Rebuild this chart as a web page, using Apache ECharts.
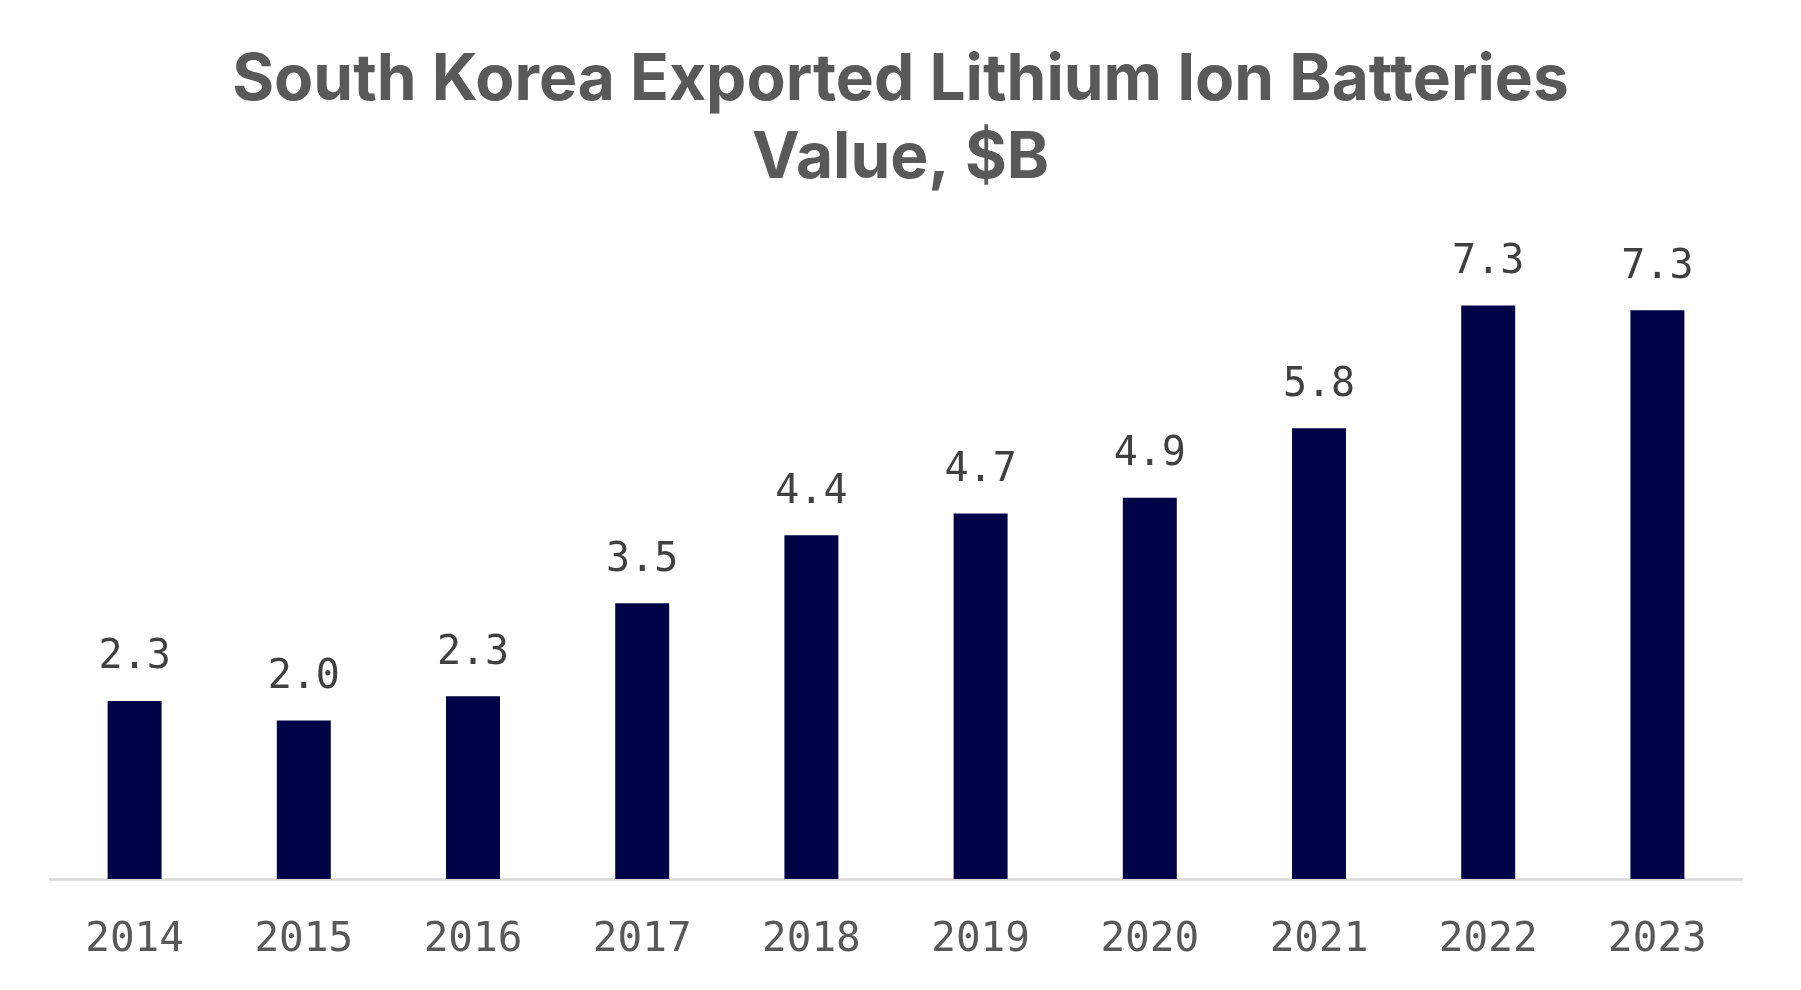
<!DOCTYPE html>
<html>
<head>
<meta charset="utf-8">
<script src="https://cdn.jsdelivr.net/npm/echarts@6/dist/echarts.min.js"></script>
<style>html,body{margin:0;padding:0;background:#fff;}#chart{width:1801px;height:990px;}</style>
</head>
<body>
<div id="chart"></div>
<script>
const years = ['2014','2015','2016','2017','2018','2019','2020','2021','2022','2023'];
const values = [2.28, 2.03, 2.34, 3.53, 4.40, 4.68, 4.88, 5.77, 7.34, 7.28];
const titleText = 'South Korea Exported Lithium Ion Batteries\nValue, $B';

const chart = echarts.init(document.getElementById('chart'));
chart.setOption({
  backgroundColor: '#ffffff',
  animation: false,
  title: {
    text: titleText,
    left: 'center',
    top: 37,
    textStyle: {
      fontFamily: 'Inter',
      fontWeight: 700,
      fontSize: 64,
      lineHeight: 78,
      color: '#595959'
    }
  },
  grid: { left: 50, right: 59, top: 254, bottom: 111 },
  xAxis: {
    type: 'category',
    data: years,
    axisLine: { lineStyle: { color: '#d9d9d9', width: 2.5 } },
    axisTick: { show: false },
    axisLabel: {
      fontFamily: 'DejaVu Sans Mono',
      fontSize: 41,
      color: '#595959',
      margin: 41
    }
  },
  yAxis: {
    type: 'value',
    min: 0,
    max: 8,
    show: false,
    splitLine: { show: false }
  },
  series: [{
    type: 'bar',
    data: values,
    barWidth: '31.9%',
    itemStyle: { color: '#020246' },
    label: {
      show: true,
      position: 'top',
      distance: 23,
      fontFamily: 'DejaVu Sans Mono',
      fontSize: 40,
      color: '#404040',
      formatter: p => p.value.toFixed(1)
    }
  }]
});
</script>
</body>
</html>
